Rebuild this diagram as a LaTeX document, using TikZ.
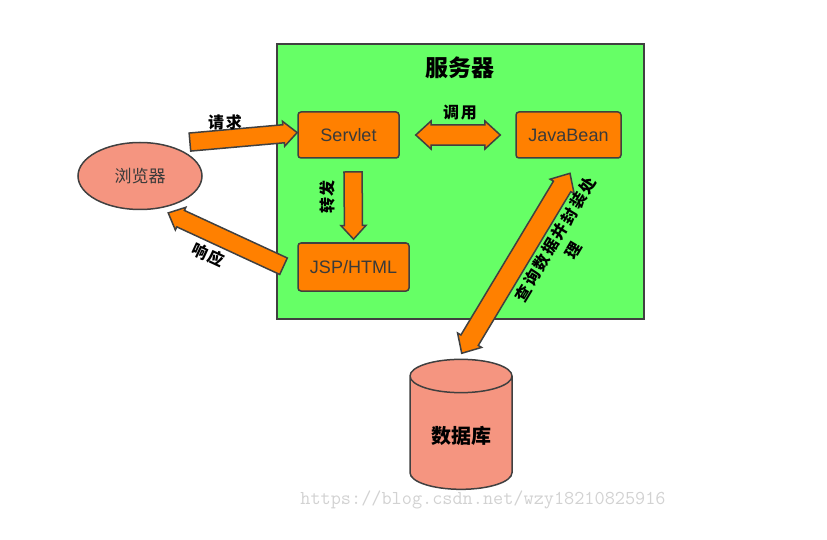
\documentclass[tikz,border=0pt]{standalone}
\usepackage{fontspec}
\setmainfont{Liberation Sans}
\newfontfamily\cjk{Noto Sans CJK SC}
\newfontfamily\cjkwide[LetterSpace=12]{Noto Sans CJK SC}
\usetikzlibrary{shapes.geometric,shapes.arrows,calc}
\definecolor{servergreen}{HTML}{66FF66}
\definecolor{boxorange}{HTML}{FF8000}
\definecolor{salmon}{HTML}{F59580}
\definecolor{edge}{HTML}{404040}
\definecolor{boxtext}{HTML}{3A3A3A}
\definecolor{mark}{HTML}{D2D2D2}
\tikzset{
  box/.style={draw=edge, line width=1.5pt, fill=boxorange, rounded corners=3pt,
    text=boxtext, font=\fontsize{18}{20}\selectfont},
  lbl/.style={font=\cjkwide\bfseries\fontsize{16}{21}\selectfont, align=center},
  fatarrow/.style={single arrow, draw=edge, line width=1.5pt, fill=boxorange,
    inner xsep=0pt, inner ysep=4.5pt, minimum width=25pt,
    single arrow head extend=2pt, single arrow tip angle=85},
  fatdouble/.style={double arrow, draw=edge, line width=1.5pt, fill=boxorange,
    inner xsep=0pt, inner ysep=4.5pt, minimum width=28pt,
    double arrow head extend=2pt, double arrow tip angle=85}
}
% style, name, from, to
\newcommand{\fatarrow}[4]{%
  \path let \p1=($(#4)-(#3)$), \n1={atan2(\y1,\x1)}, \n2={veclen(\x1,\y1)} in
    node[#1, minimum height=\n2, rotate=\n1] (#2) at ($(#3)!0.5!(#4)$) {};}
\begin{document}
\begin{tikzpicture}[x=1pt,y=1pt]
  \useasboundingbox (0,0) rectangle (827,539);
  % server frame
  \node[draw=edge, line width=1.5pt, fill=servergreen, minimum width=367pt,
    minimum height=275pt] (server) at (460.5,357.5) {};
  \node[font=\cjk\bfseries\fontsize{23}{26}\selectfont] (title) at (460,471) {服务器};
  \node[box, minimum width=101pt, minimum height=46pt] (servlet) at (348.5,404) {Servlet};
  \node[box, minimum width=105pt, minimum height=46pt] (javabean) at (568.5,404) {JavaBean};
  \node[box, minimum width=111pt, minimum height=48pt] (jsp) at (353.5,272) {JSP/HTML};
  % outside
  \node[ellipse, draw=edge, line width=1.5pt, fill=salmon, minimum width=124pt,
    minimum height=67pt, text=boxtext, font=\cjk\fontsize{17}{19}\selectfont] (browser) at (140,363) {浏览器};
  \node[cylinder, shape border rotate=90, aspect=0.5, draw=edge, line width=1.5pt,
    fill=salmon, minimum width=102pt, minimum height=130pt,
    font=\cjk\bfseries\fontsize{20}{22}\selectfont] (db) at (461,103) {数据库};
  % arrows
  \coordinate (reqA) at (185,396.5);
  \coordinate (reqB) at ($(servlet.west)+(-5,2)$);
  \coordinate (callA) at ($(servlet.east)+(16,0)$);
  \coordinate (callB) at ($(javabean.west)+(-15,0)$);
  \coordinate (fwdA) at (353,372);
  \coordinate (fwdB) at ($(jsp.north)+(0,8)$);
  \coordinate (respA) at (288,270.7);
  \coordinate (respB) at (172.7,324);
  \coordinate (queryA) at (461.7,185.7);
  \coordinate (queryB) at (570,365.7);
  \fatarrow{fatarrow}{req}{reqA}{reqB}
  \fatarrow{fatdouble}{call}{callA}{callB}
  \fatarrow{fatarrow}{fwd}{fwdA}{fwdB}
  \fatarrow{fatarrow}{resp}{respA}{respB}
  \fatarrow{fatdouble}{query}{queryA}{queryB}
  % labels
  \node[lbl] (reqlbl) at (225,417) {请求};
  \node[lbl] (calllbl) at (460,426) {调用};
  \node[lbl, rotate=90] (fwdlbl) at (327,342) {转发};
  \node[lbl, rotate=-25] (resplbl) at (208,284) {响应};
  \node[lbl, rotate=59] (querylbl) at (564,294.5) {查询数据并封装处\\理};
  \node[font=\ttfamily\fontsize{19.7}{22}\selectfont, text=mark] (watermark) at (483,39)
    {https://blog.csdn.net/wzy18210825916};
\end{tikzpicture}
\end{document}
